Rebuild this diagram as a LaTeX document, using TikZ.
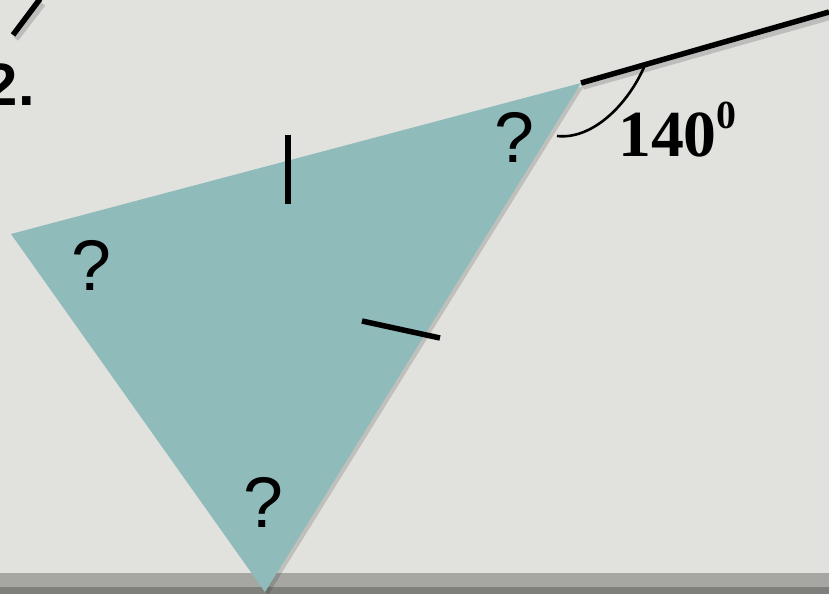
\documentclass[tikz,border=0pt]{standalone}
\usepackage{fontspec}
\setmainfont{Liberation Serif}
\newfontfamily\arialf{Liberation Sans}
\definecolor{bgc}{HTML}{E1E2DD}
\definecolor{tri}{HTML}{8FBBBB}
\definecolor{barA}{HTML}{A6A7A2}
\definecolor{barB}{HTML}{7F807B}
\tikzset{
  thickline/.style={line width=5.5bp, black},
  shadowline/.style={line width=5.5bp, black!35, opacity=0.6},
  qmark/.style={font=\arialf\fontsize{72}{72}\selectfont, inner sep=0pt},
}
\begin{document}
\begin{tikzpicture}[x=1bp,y=-1bp]
\useasboundingbox (0,0) rectangle (829,594);
\fill[bgc] (0,0) rectangle (829,594);
\fill[barA] (0,573) rectangle (829,587);
\fill[barB] (0,587) rectangle (829,594);
\coordinate (A) at (11,234);
\coordinate (B) at (581,83);
\coordinate (C) at (265,592);
\coordinate (E) at (829,12);
% triangle with soft shadow
\fill[black, opacity=0.15] ([shift={(3,3)}]A) -- ([shift={(3,3)}]B) -- ([shift={(3,3)}]C) -- cycle;
\fill[tri] (A) -- (B) -- (C) -- cycle;
% extension line
\draw[shadowline] (583,87) -- (831,17);
\draw[thickline] (B) -- (E);
% top-left line
\draw[shadowline] (16,39) -- (43,4);
\draw[thickline] (13,35) -- (40,-1);
% tick marks
\draw[thickline] (288,135) -- (288,204);
\draw[thickline] (362,321) -- (440,338);
% angle arc
\draw[line width=2.6bp] (557,136) .. controls (592,140) and (628,105) .. (645,65);
% labels
\node[anchor=base west, inner sep=0pt, font=\bfseries\fontsize{66}{66}\selectfont] (ang) at (618,157) {140};
\node[anchor=base west, inner sep=0pt, font=\bfseries\fontsize{40}{40}\selectfont] (sup) at (716,129) {0};
\node[qmark] (q1) at (91,265) {?};
\node[qmark] (q2) at (514,137) {?};
\node[qmark] (q3) at (263,502) {?};
\node[anchor=base east, inner sep=0pt, font=\arialf\bfseries\fontsize{60}{60}\selectfont] (num) at (35,106) {2.};
\end{tikzpicture}
\end{document}
